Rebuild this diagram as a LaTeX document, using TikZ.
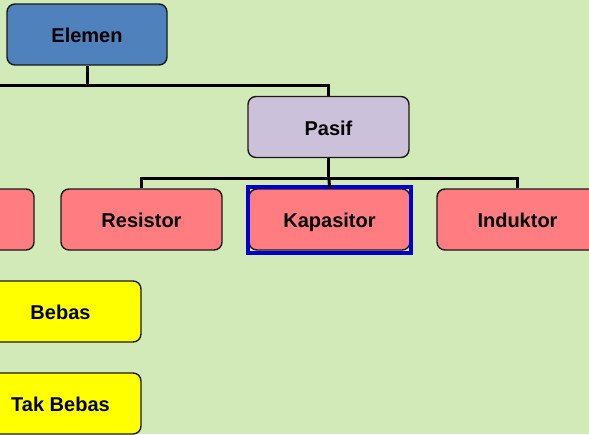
\documentclass[tikz,border=0pt]{standalone}
\usepackage{fontspec}
\setmainfont{Liberation Sans}
\usetikzlibrary{calc}
\definecolor{bg}{HTML}{D1EAB7}
\definecolor{elemenfill}{HTML}{4F81BD}
\definecolor{pasiffill}{HTML}{CCC1DA}
\definecolor{redfill}{HTML}{FF7C80}
\definecolor{yellowfill}{HTML}{FFFF00}
\definecolor{selblue}{HTML}{0000CC}
\definecolor{edge}{HTML}{1A1A1A}
\begin{document}
\begin{tikzpicture}[x=1pt,y=-1pt,
  box/.style={draw=edge, line width=1.4pt, rounded corners=8pt,
    minimum width=161pt, minimum height=61pt, inner sep=0pt,
    text height=16.5pt, text depth=0pt,
    font=\fontsize{20}{22}\selectfont\bfseries, text=black},
  conn/.style={line width=3pt, black}]
  % canvas
  \fill[bg] (0,0) rectangle (589,434);
  \useasboundingbox (0,0) rectangle (589,434);
  \begin{scope}
  \clip (0,0) rectangle (589,434);

  % level 0 and 1
  \node[box, fill=elemenfill, minimum width=160pt] (Elemen) at (87,34.5) {Elemen};
  \node[box, fill=pasiffill] (Pasif) at (328.5,127) {Pasif};

  % level 2
  \node[box, fill=redfill] (Left) at (-46.5,219.5) {};
  \node[box, fill=redfill] (Resistor) at (141.5,219.5) {Resistor};
  \node[box, fill=redfill] (Kapasitor) at (329.5,219.5) {Kapasitor};
  \node[box, fill=redfill] (Induktor) at (517.5,219.5) {Induktor};

  % level 3
  \node[box, fill=yellowfill] (Bebas) at (60.5,311.5) {Bebas};
  \node[box, fill=yellowfill] (TakBebas) at (60.5,403.5) {Tak Bebas};

  % selection frame
  \draw[selblue, line width=4pt]
    ($(Kapasitor.north west)+(0,-1.5)$) rectangle ($(Kapasitor.south east)+(0,2.5)$);

  % connectors
  \coordinate (busA) at (-5,85.5);
  \coordinate (busB) at (329,178);
  \draw[conn] (Elemen.south) -- (Elemen.south |- busA);
  \draw[conn] (busA) -| (Pasif.north);
  \draw[conn] (Pasif.south) -- (Pasif.south |- busB);
  \draw[conn] (Resistor.north) |- (busB) -| (Induktor.north);
  \draw[conn] (busB) -- (Kapasitor.north);
  \end{scope}
\end{tikzpicture}
\end{document}
